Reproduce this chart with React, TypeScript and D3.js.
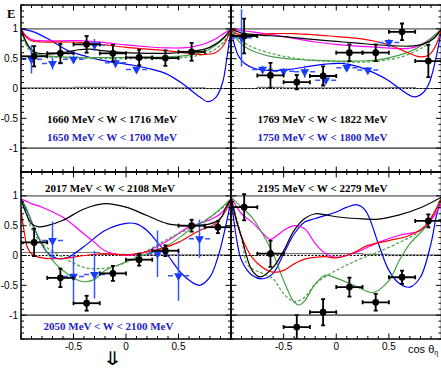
import React from 'react';
import * as d3 from 'd3';

type P = [number, number];
type Pt = [number, number, number, number];

// ---------- top-left: 1660-1716 MeV ----------
const tlBlack: P[] = [[-1,1],[-0.95,0.78],[-0.9,0.65],[-0.85,0.6],[-0.75,0.58],[-0.6,0.6],[-0.45,0.65],[-0.35,0.66],[-0.2,0.63],[0,0.6],[0.2,0.59],[0.4,0.59],[0.6,0.62],[0.75,0.66],[0.85,0.74],[0.93,0.85],[1,1]];
const tlRed: P[] = [[-1,1],[-0.95,0.86],[-0.9,0.8],[-0.8,0.78],[-0.6,0.78],[-0.4,0.77],[-0.2,0.73],[0,0.69],[0.2,0.66],[0.4,0.63],[0.6,0.59],[0.75,0.57],[0.85,0.6],[0.92,0.7],[1,1]];
const tlMagenta: P[] = [[-1,1],[-0.95,0.88],[-0.9,0.82],[-0.8,0.8],[-0.6,0.8],[-0.4,0.8],[-0.2,0.77],[0,0.73],[0.2,0.7],[0.4,0.68],[0.6,0.69],[0.75,0.75],[0.85,0.83],[0.93,0.92],[1,1]];
const tlGreen: P[] = [[-1,1],[-0.95,0.75],[-0.9,0.63],[-0.8,0.56],[-0.6,0.53],[-0.4,0.52],[-0.2,0.52],[0,0.52],[0.2,0.52],[0.4,0.53],[0.6,0.56],[0.75,0.62],[0.85,0.72],[0.93,0.84],[1,1]];
const tlGreenDash: P[] = [[-1,1],[-0.95,0.73],[-0.9,0.6],[-0.8,0.54],[-0.6,0.52],[-0.4,0.5],[-0.2,0.5],[0,0.5],[0.2,0.5],[0.4,0.5],[0.6,0.53],[0.75,0.58],[0.85,0.66],[0.93,0.78],[1,1]];
const tlBlue: P[] = [[-1,1],[-0.88,0.95],[-0.72,0.81],[-0.56,0.64],[-0.4,0.55],[-0.25,0.48],[0.07,0.39],[0.25,0.32],[0.38,0.25],[0.54,0.08],[0.7,-0.14],[0.78,-0.22],[0.86,-0.14],[0.92,0.1],[0.96,0.5],[1,1]];
const tlPts: Pt[] = [[-0.875,0.54,0.125,0.17],[-0.625,0.59,0.125,0.16],[-0.375,0.74,0.125,0.14],[-0.125,0.59,0.125,0.14],[0.125,0.52,0.125,0.13],[0.375,0.51,0.125,0.13],[0.625,0.615,0.125,0.15]];
const tlBluePts: Pt[] = [[-0.9,0.49,0.1,0.24],[-0.7,0.42,0.1,0.1],[-0.5,0.49,0.1,0.05],[-0.3,0.73,0.1,0.1],[-0.1,0.43,0.1,0.08],[0.1,0.32,0.1,0.06]];
const tlSyst: number[] = [0.01,0.01,0.02,0.02,0.01,0.01,0.01,0.0];

// ---------- top-right: 1769-1822 MeV ----------
const trBlack: P[] = [[-1,1],[-0.9,0.93],[-0.75,0.9],[-0.5,0.87],[-0.2,0.82],[0,0.79],[0.2,0.76],[0.5,0.72],[0.7,0.71],[0.82,0.74],[0.92,0.83],[1,1]];
const trRed: P[] = [[-1,1],[-0.95,0.92],[-0.85,0.9],[-0.6,0.92],[-0.4,0.92],[-0.2,0.9],[0,0.87],[0.2,0.84],[0.4,0.78],[0.55,0.7],[0.68,0.6],[0.8,0.53],[0.88,0.56],[0.94,0.7],[1,1]];
const trMagenta: P[] = [[-1,1],[-0.9,0.97],[-0.8,0.95],[-0.6,0.9],[-0.4,0.84],[-0.2,0.78],[0,0.74],[0.2,0.71],[0.4,0.69],[0.6,0.67],[0.72,0.68],[0.85,0.78],[0.93,0.88],[1,1]];
const trGreen: P[] = [[-1,1],[-0.93,0.8],[-0.85,0.68],[-0.75,0.6],[-0.6,0.53],[-0.4,0.49],[-0.2,0.47],[0,0.46],[0.2,0.46],[0.4,0.48],[0.6,0.56],[0.75,0.66],[0.87,0.8],[1,1]];
const trGreenDash: P[] = [[-1,1],[-0.93,0.84],[-0.85,0.74],[-0.75,0.66],[-0.6,0.58],[-0.4,0.51],[-0.2,0.47],[0,0.45],[0.2,0.44],[0.4,0.46],[0.6,0.52],[0.75,0.62],[0.87,0.75],[1,1]];
const trBlue: P[] = [[-1,1],[-0.97,0.75],[-0.93,0.55],[-0.87,0.42],[-0.78,0.34],[-0.63,0.3],[-0.45,0.32],[-0.3,0.36],[-0.1,0.41],[0.05,0.42],[0.2,0.37],[0.35,0.27],[0.5,0.13],[0.6,0.0],[0.74,-0.14],[0.82,-0.08],[0.88,0.08],[0.94,0.45],[1,1]];
const trPts: Pt[] = [[-0.875,0.88,0.125,0.29],[-0.625,0.22,0.125,0.21],[-0.375,0.106,0.125,0.12],[-0.125,0.21,0.125,0.16],[0.125,0.6,0.125,0.14],[0.375,0.6,0.125,0.14],[0.625,0.95,0.125,0.14],[0.875,0.46,0.125,0.27]];
const trBluePts: Pt[] = [[-0.9,0.85,0.1,0.48],[-0.7,0.32,0.1,0.06],[-0.5,0.29,0.1,0.05],[-0.3,0.28,0.1,0.1],[-0.1,0.14,0.1,0.05],[0.1,0.35,0.1,0.06],[0.3,0.31,0.1,0.05],[0.5,0.77,0.1,0.06]];
const trSyst: number[] = [0.0,0.02,0.01,0.01,0.015,0.01,0.015,0.0];

// ---------- bottom-left: 2017-2108 MeV ----------
const blBlack: P[] = [[-1,0.95],[-0.95,0.7],[-0.9,0.53],[-0.83,0.48],[-0.75,0.5],[-0.6,0.59],[-0.4,0.78],[-0.2,0.87],[0,0.81],[0.2,0.67],[0.4,0.53],[0.6,0.5],[0.8,0.53],[0.9,0.62],[0.95,0.8],[1,0.95]];
const blRed: P[] = [[-1,0.76],[-0.97,0.4],[-0.94,0.14],[-0.9,0.03],[-0.8,-0.04],[-0.6,-0.05],[-0.4,0.0],[-0.2,0.03],[0,0.01],[0.1,0.03],[0.3,0.1],[0.5,0.22],[0.7,0.42],[0.85,0.53],[0.95,0.75],[1,0.95]];
const blMagenta: P[] = [[-1,0.95],[-0.9,0.87],[-0.8,0.81],[-0.6,0.64],[-0.4,0.36],[-0.3,0.22],[-0.2,0.08],[-0.05,0.01],[0.1,0.02],[0.2,0.07],[0.4,0.25],[0.6,0.48],[0.8,0.6],[0.9,0.7],[1,0.93]];
const blGreen: P[] = [[-1,0.95],[-0.95,0.8],[-0.9,0.56],[-0.8,0.2],[-0.7,-0.08],[-0.6,-0.25],[-0.45,-0.42],[-0.38,-0.44],[-0.3,-0.4],[-0.2,-0.25],[0,-0.11],[0.2,0.03],[0.4,0.17],[0.6,0.42],[0.8,0.64],[1,0.95]];
const blGreenDash: P[] = [[-1,0.93],[-0.95,0.72],[-0.9,0.45],[-0.8,0.2],[-0.6,-0.03],[-0.4,-0.2],[-0.25,-0.22],[-0.1,-0.18],[0,-0.11],[0.2,0.08],[0.4,0.28],[0.6,0.45],[0.8,0.64],[1,0.92]];
const blBlue: P[] = [[-1,0.95],[-0.93,0.7],[-0.85,0.36],[-0.75,0.05],[-0.65,-0.05],[-0.55,-0.03],[-0.4,0.15],[-0.2,0.42],[0,0.54],[0.1,0.53],[0.2,0.42],[0.3,0.22],[0.4,0.0],[0.55,-0.34],[0.7,-0.5],[0.8,-0.36],[0.88,0.0],[0.95,0.5],[1,0.92]];
const blPts: Pt[] = [[-0.875,0.22,0.125,0.23],[-0.625,-0.375,0.125,0.155],[-0.375,-0.8,0.125,0.125],[-0.125,-0.3,0.125,0.125],[0.125,-0.07,0.125,0.1],[0.375,0.08,0.125,0.09],[0.625,0.5,0.125,0.1],[0.875,0.475,0.125,0.1]];
const blBluePts: Pt[] = [[-0.7,0.25,0.1,0.32],[-0.5,-0.35,0.1,0.41],[-0.3,-0.32,0.1,0.4],[0.3,0.03,0.1,0.39],[0.5,-0.34,0.1,0.42],[0.7,0.28,0.1,0.32]];
const blSyst: number[] = [0.05,0.05,0.05,0.02,0.01,0.01,0.01,0.01];

// ---------- bottom-right: 2195-2279 MeV ----------
const brBlack: P[] = [[-1,0.98],[-0.95,0.6],[-0.9,0.31],[-0.8,-0.25],[-0.72,-0.36],[-0.6,-0.2],[-0.5,0.08],[-0.4,0.42],[-0.3,0.62],[-0.2,0.7],[-0.1,0.68],[0,0.65],[0.2,0.62],[0.4,0.61],[0.6,0.68],[0.8,0.8],[1,0.98]];
const brRed: P[] = [[-1,0.98],[-0.95,0.59],[-0.9,0.31],[-0.8,-0.03],[-0.7,-0.2],[-0.6,-0.28],[-0.5,-0.25],[-0.4,-0.14],[-0.3,-0.06],[-0.2,-0.03],[-0.1,-0.02],[0,-0.04],[0.1,0],[0.2,0.08],[0.3,0.17],[0.5,0.25],[0.7,0.34],[0.85,0.5],[1,0.95]];
const brMagenta: P[] = [[-1,0.98],[-0.9,0.7],[-0.8,0.56],[-0.7,0.38],[-0.63,0.27],[-0.5,0.42],[-0.4,0.5],[-0.3,0.45],[-0.2,0.2],[-0.1,0.03],[0,-0.03],[0.2,0.06],[0.4,0.22],[0.6,0.34],[0.8,0.42],[0.9,0.59],[1,0.87]];
const brGreen: P[] = [[-1,0.98],[-0.9,0.81],[-0.8,0.64],[-0.7,0.36],[-0.6,0.03],[-0.5,-0.42],[-0.4,-0.78],[-0.35,-0.83],[-0.3,-0.76],[-0.2,-0.48],[-0.1,-0.33],[0,-0.38],[0.1,-0.45],[0.2,-0.53],[0.35,-0.62],[0.5,-0.42],[0.6,-0.08],[0.7,0.2],[0.85,0.48],[1,0.98]];
const brGreenDash: P[] = [[-1,0.98],[-0.9,0.3],[-0.85,-0.14],[-0.8,-0.22],[-0.7,-0.3],[-0.6,-0.39],[-0.5,-0.64],[-0.4,-0.77],[-0.3,-0.7],[-0.2,-0.48],[0,-0.25],[0.2,-0.08],[0.4,0.06],[0.6,0.22],[0.8,0.42],[1,0.92]];
const brBlue: P[] = [[-1,0.98],[-0.95,0.31],[-0.9,-0.08],[-0.8,-0.33],[-0.7,-0.39],[-0.6,-0.3],[-0.5,0.03],[-0.4,0.36],[-0.3,0.56],[-0.2,0.62],[0,0.73],[0.1,0.81],[0.2,0.85],[0.28,0.75],[0.4,0.2],[0.5,-0.25],[0.6,-0.47],[0.7,-0.53],[0.8,-0.36],[0.9,0.2],[0.95,0.65],[1,0.98]];
const brPts: Pt[] = [[-0.875,0.81,0.125,0.22],[-0.625,0.03,0.125,0.22],[-0.375,-1.2,0.125,0.2],[-0.125,-0.95,0.125,0.22],[0.125,-0.53,0.125,0.16],[0.375,-0.785,0.125,0.14],[0.625,-0.365,0.125,0.11],[0.875,0.58,0.125,0.11]];
const brBluePts: Pt[] = [];
const brSyst: number[] = [0.0,0.03,0.03,0.03,0.03,0.02,0.01,0.01];

const xTickLabels = ['-0.5', '0', '0.5'];
const yTickLabels = ['-1', '-0.5', '0', '0.5', '1'];

const panels = [
  { col: 0, row: 0, black: tlBlack, red: tlRed, magenta: tlMagenta, green: tlGreen, greenDash: tlGreenDash, blue: tlBlue, pts: tlPts, bluePts: tlBluePts, syst: tlSyst,
    label1: '1660 MeV < W < 1716 MeV', label2: '1650 MeV < W < 1700 MeV' },
  { col: 1, row: 0, black: trBlack, red: trRed, magenta: trMagenta, green: trGreen, greenDash: trGreenDash, blue: trBlue, pts: trPts, bluePts: trBluePts, syst: trSyst,
    label1: '1769 MeV < W < 1822 MeV', label2: '1750 MeV < W < 1800 MeV' },
  { col: 0, row: 1, black: blBlack, red: blRed, magenta: blMagenta, green: blGreen, greenDash: blGreenDash, blue: blBlue, pts: blPts, bluePts: blBluePts, syst: blSyst,
    label1: '2017 MeV < W < 2108 MeV', label2: '2050 MeV < W < 2100 MeV' },
  { col: 1, row: 1, black: brBlack, red: brRed, magenta: brMagenta, green: brGreen, greenDash: brGreenDash, blue: brBlue, pts: brPts, bluePts: brBluePts, syst: brSyst,
    label1: '2195 MeV < W < 2279 MeV', label2: '' },
];

const COLS: [number, number][] = [[21, 231], [231, 441.5]];
const ROWS: [number, number][] = [[5, 172], [172, 339]];
const SERIF = '"Liberation Serif", "DejaVu Serif", serif';
const SANS = '"Liberation Sans", Arial, sans-serif';
const BLUE_TXT = '#2323c8';
const GREEN = '#47a047';

function Panel({ p, idx }: { p: typeof panels[number]; idx: number }) {
  const [x0, x1] = COLS[p.col];
  const [y0, y1] = ROWS[p.row];
  const xs = d3.scaleLinear().domain([-1, 1]).range([x0, x1]);
  const ys = d3.scaleLinear().domain([-1.4, 1.4]).range([y1, y0]);
  const line = d3.line<P>().x(d => xs(d[0])).y(d => ys(d[1])).curve(d3.curveCatmullRom.alpha(0.5));
  const clipId = `clip${idx}`;
  const xt = d3.range(-10, 11).map(i => i / 10);
  const yt = d3.range(-14, 15).map(i => i / 10);
  const isMajor = (v: number) => Math.abs(v * 2 - Math.round(v * 2)) < 1e-6;
  const bins = d3.range(0, 9).map(i => -1 + i * 0.25);
  let systPath = '';
  p.syst.forEach((v, i) => {
    const a = xs(bins[i]), b = xs(bins[i + 1]), yy = ys(v);
    systPath += (i === 0 ? `M${a},${ys(0)}L${a},${yy}` : `L${a},${yy}`) + `L${b},${yy}`;
  });
  systPath += `L${xs(1)},${ys(0)}`;
  const tri = d3.symbol().type(d3.symbolTriangle).size(34)();
  const labelX = p.col === 0 ? 47 : 257.5;
  return (
    <g>
      <defs>
        <clipPath id={clipId}><rect x={x0} y={y0} width={x1 - x0} height={y1 - y0} /></clipPath>
      </defs>
      <g clipPath={`url(#${clipId})`}>
        <line x1={x0} x2={x1} y1={ys(1)} y2={ys(1)} stroke="#8a8a8a" strokeWidth={1.6} />
        <line x1={x0} x2={x1} y1={ys(-1)} y2={ys(-1)} stroke="#6a6a6a" strokeWidth={1.6} />
        <path d={systPath} fill="none" stroke="#777" strokeWidth={1.2} />
        <line x1={x0} x2={x1} y1={ys(0)} y2={ys(0)} stroke="#000" strokeWidth={1} strokeDasharray="2,1.5" />
        <path d={line(p.blue) || ''} fill="none" stroke="#0000ff" strokeWidth={1.2} />
        <path d={line(p.magenta) || ''} fill="none" stroke="#ff00ff" strokeWidth={1.2} />
        <path d={line(p.greenDash) || ''} fill="none" stroke={GREEN} strokeWidth={1.2} strokeDasharray="3,2" />
        <path d={line(p.green) || ''} fill="none" stroke={GREEN} strokeWidth={1.2} />
        <path d={line(p.red) || ''} fill="none" stroke="#ff0000" strokeWidth={1.2} />
        <path d={line(p.black) || ''} fill="none" stroke="#000" strokeWidth={1.2} />
        {p.bluePts.map((d, i) => (
          <g key={'b' + i}>
            <line x1={xs(d[0])} x2={xs(d[0])} y1={ys(d[1] - d[3])} y2={ys(d[1] + d[3])} stroke="#3355ff" strokeWidth={1.5} />
            <line x1={xs(d[0] - d[2])} x2={xs(d[0] + d[2])} y1={ys(d[1])} y2={ys(d[1])} stroke="#3355ff" strokeWidth={1.5} strokeDasharray="5,3" />
            <path d={tri || ''} transform={`translate(${xs(d[0])},${ys(d[1])}) rotate(180)`} fill="#1a3cff" />
          </g>
        ))}
        {p.pts.map((d, i) => {
          const cx = xs(d[0]), cy = ys(d[1]);
          const xa = xs(d[0] - d[2]), xb = xs(d[0] + d[2]);
          const ya = ys(d[1] - d[3]), yb = ys(d[1] + d[3]);
          return (
            <g key={'p' + i} stroke="#000" strokeWidth={1.8}>
              <line x1={cx} x2={cx} y1={ya} y2={yb} />
              <line x1={xa} x2={xb} y1={cy} y2={cy} />
              <line x1={cx - 2} x2={cx + 2} y1={ya} y2={ya} />
              <line x1={cx - 2} x2={cx + 2} y1={yb} y2={yb} />
              <line x1={xa} x2={xa} y1={cy - 2} y2={cy + 2} />
              <line x1={xb} x2={xb} y1={cy - 2} y2={cy + 2} />
              <circle cx={cx} cy={cy} r={3.4} fill="#000" stroke="none" />
            </g>
          );
        })}
      </g>
      {/* frame */}
      <rect x={x0} y={y0} width={x1 - x0} height={y1 - y0} fill="none" stroke="#000" strokeWidth={1.5} />
      {xt.map((v, i) => {
        const L = isMajor(v) ? 5.5 : 3;
        return (
          <g key={'xt' + i} stroke="#000" strokeWidth={1}>
            <line x1={xs(v)} x2={xs(v)} y1={y1} y2={y1 - L} />
            <line x1={xs(v)} x2={xs(v)} y1={y0} y2={y0 + L} />
          </g>
        );
      })}
      {yt.map((v, i) => {
        const L = isMajor(v) ? 5.5 : 3;
        return (
          <g key={'yt' + i} stroke="#000" strokeWidth={1}>
            <line x1={x0} x2={x0 + L} y1={ys(v)} y2={ys(v)} />
            <line x1={x1} x2={x1 - L} y1={ys(v)} y2={ys(v)} />
          </g>
        );
      })}
      {p.col === 0 && yTickLabels.map(t => (
        <text key={'yl' + t} x={18} y={ys(+t) + 3.5} textAnchor="end" fontFamily={SANS} fontSize={10} fill="#000">{t}</text>
      ))}
      {p.row === 1 && xTickLabels.map(t => (
        <text key={'xl' + t} x={xs(+t)} y={350} textAnchor="middle" fontFamily={SANS} fontSize={10} fill="#000">{t}</text>
      ))}
      {p.row === 0 ? (
        <g fontFamily={SERIF} fontWeight="bold" fontSize={11}>
          <text x={labelX} y={123} fill="#000">{p.label1}</text>
          <text x={labelX} y={141} fill={BLUE_TXT}>{p.label2}</text>
        </g>
      ) : (
        <g fontFamily={SERIF} fontWeight="bold" fontSize={11}>
          <text x={p.col === 0 ? 45 : 257.5} y={192} fill="#000">{p.label1}</text>
          {p.label2 && <text x={43.5} y={330} fill={BLUE_TXT}>{p.label2}</text>}
        </g>
      )}
    </g>
  );
}

export default function App() {
  return (
    <svg width={441} height={368} viewBox="0 0 441 368" style={{ position: 'absolute', left: 0, top: 0, background: '#fff' }}>
      <rect x={0} y={0} width={441} height={368} fill="#fff" />
      {panels.map((p, i) => <Panel key={i} p={p} idx={i} />)}
      <text x={7} y={17.5} fontFamily={SERIF} fontWeight="bold" fontSize={12.5} fill="#000">E</text>
      <text x={408} y={353} fontFamily={SANS} fontSize={11} fill="#000">cos θ<tspan fontSize={7} dy={2}>η</tspan></text>
      <text transform="translate(112.5,365) scale(1.35,1)" x={0} y={0} textAnchor="middle" fontFamily='"DejaVu Sans", sans-serif' fontSize={19} fill="#000">⇓</text>
    </svg>
  );
}
